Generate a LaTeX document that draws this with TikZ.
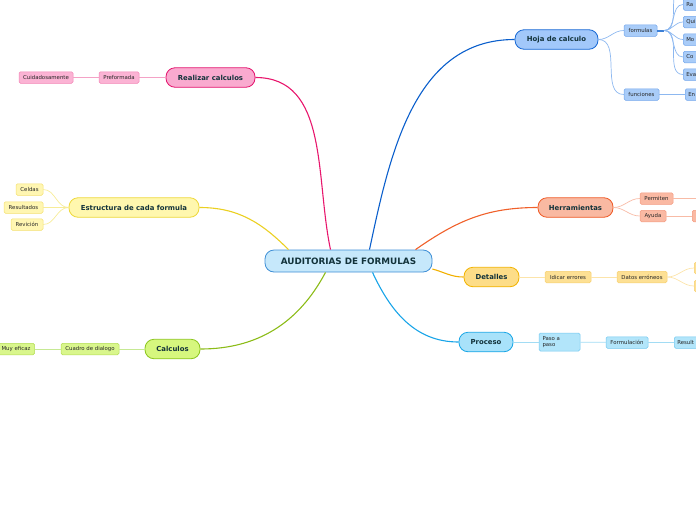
\documentclass[tikz,border=0pt]{standalone}
\usepackage{fontspec}
\setmainfont{DejaVu Sans}

\definecolor{inkdark}{HTML}{12323A}
\definecolor{rootfill}{HTML}{C6E8FB}\definecolor{rootline}{HTML}{3F8FD6}
\definecolor{bluefill}{HTML}{A2C8FA}\definecolor{blueline}{HTML}{1768D4}\definecolor{bluelink}{HTML}{0B5FCC}
\definecolor{bluesub}{HTML}{A9CCF8}\definecolor{bluesubline}{HTML}{72A6EC}\definecolor{bluesublink}{HTML}{8DB8F0}
\definecolor{pinkfill}{HTML}{F9AACF}\definecolor{pinkline}{HTML}{E3136D}\definecolor{pinklink}{HTML}{E8176D}
\definecolor{pinksub}{HTML}{FBB3D4}\definecolor{pinksubline}{HTML}{F283B4}\definecolor{pinksublink}{HTML}{F4A2C6}
\definecolor{yelfill}{HTML}{FFF7AE}\definecolor{yelline}{HTML}{EED83A}\definecolor{yellink}{HTML}{EBD022}
\definecolor{yelsub}{HTML}{FFF6B2}\definecolor{yelsubline}{HTML}{F4E070}\definecolor{yelsublink}{HTML}{F7EC98}
\definecolor{grnfill}{HTML}{D6F77E}\definecolor{grnline}{HTML}{8CC61E}\definecolor{grnlink}{HTML}{8CBC18}
\definecolor{grnsub}{HTML}{D9F68C}\definecolor{grnsubline}{HTML}{B2DC52}\definecolor{grnsublink}{HTML}{C6E994}
\definecolor{orafill}{HTML}{F9B9A2}\definecolor{oraline}{HTML}{EF5A26}\definecolor{oralink}{HTML}{F0602A}
\definecolor{orasub}{HTML}{FAB9A3}\definecolor{orasubline}{HTML}{F49A80}\definecolor{orasublink}{HTML}{F8BBA6}
\definecolor{goldfill}{HTML}{FDDD88}\definecolor{goldline}{HTML}{F2B300}\definecolor{goldlink}{HTML}{F2B000}
\definecolor{goldsub}{HTML}{FDE094}\definecolor{goldsubline}{HTML}{F7D070}\definecolor{goldsublink}{HTML}{FCE4AA}
\definecolor{cyafill}{HTML}{A8E2FA}\definecolor{cyaline}{HTML}{19A6E6}\definecolor{cyalink}{HTML}{18A4E8}
\definecolor{cyasub}{HTML}{B2E5FA}\definecolor{cyasubline}{HTML}{72C8F0}\definecolor{cyasublink}{HTML}{A2DCF4}

\begin{document}
\begin{tikzpicture}[x=1pt, y=-1pt,
  root/.style={draw=rootline, fill=rootfill, line width=.8pt, rounded corners=9pt,
               minimum width=167pt, minimum height=22pt, text=inkdark,
               font=\fontsize{8.8}{10}\selectfont\bfseries},
  topic/.style={line width=.8pt, rounded corners=9pt, minimum height=19.5pt, inner xsep=2pt,
                text=inkdark, font=\fontsize{6.9}{8}\selectfont\bfseries},
  leaf/.style={line width=.5pt, rounded corners=1.5pt, minimum height=11.5pt, inner xsep=1.2pt,
               inner ysep=1pt, text=black!85, font=\fontsize{5.4}{6.3}\selectfont},
  cutleaf/.style={leaf, anchor=west, minimum width=40pt, text width=34pt, align=left},
  link/.style={line width=1.1pt},
  sublink/.style={line width=.7pt},
]
\useasboundingbox (0,0) rectangle (696,520);
\clip (0,0) rectangle (696,520);

\node[root] (root) at (348.5,261) {AUDITORIAS DE FORMULAS};

% right side
\node[topic, draw=blueline, fill=bluefill, minimum width=83pt] (hoja) at (556.5,39.5) {Hoja de calculo};
\node[leaf, draw=bluesubline, fill=bluesub, minimum width=33pt] (formulas) at (640.5,30.5) {formulas};
\node[leaf, draw=bluesubline, fill=bluesub, minimum width=35pt] (funciones) at (641.5,94.5) {funciones};
\coordinate (fork) at (664,30.5);
\coordinate (fhidden) at (683,-13);
\node[cutleaf, draw=bluesubline, fill=bluesub] (fra) at (683,4.5) {Ra};
\node[cutleaf, draw=bluesubline, fill=bluesub] (fqui) at (683,22) {Qui};
\node[cutleaf, draw=bluesubline, fill=bluesub] (fmo) at (683,39.5) {Mo};
\node[cutleaf, draw=bluesubline, fill=bluesub] (fco) at (683,57) {Co};
\node[cutleaf, draw=bluesubline, fill=bluesub] (feva) at (683,74.5) {Eva};
\node[cutleaf, draw=bluesubline, fill=bluesub] (fen) at (685,94.5) {En};

\node[topic, draw=oraline, fill=orafill, minimum width=75pt] (herr) at (575.5,207.5) {Herramientas};
\node[leaf, draw=orasubline, fill=orasub, minimum width=33pt] (permiten) at (656.5,198.5) {Permiten};
\node[leaf, draw=orasubline, fill=orasub, minimum width=26pt] (ayuda) at (653,216) {Ayuda};
\coordinate (phidden) at (700,198.5);
\node[cutleaf, draw=orasubline, fill=orasub] (ayudanext) at (692,216) {};

\node[topic, draw=goldline, fill=goldfill, minimum width=55pt] (detalles) at (491.5,277) {Detalles};
\node[leaf, draw=goldsubline, fill=goldsub, minimum width=46pt] (idicar) at (568,277) {Idicar errores};
\node[leaf, draw=goldsubline, fill=goldsub, minimum width=50pt] (datos) at (642,277) {Datos erróneos};
\node[cutleaf, draw=goldsubline, fill=goldsub] (datosa) at (694,268) {};
\node[cutleaf, draw=goldsubline, fill=goldsub] (datosb) at (694,286) {};

\node[topic, draw=cyaline, fill=cyafill, minimum width=54pt] (proceso) at (486,342) {Proceso};
\node[leaf, draw=cyasubline, fill=cyasub, minimum width=41pt, minimum height=18pt,
      inner xsep=3.5pt, text width=34pt, align=left] (paso) at (559.5,342) {Paso a\\paso};
\node[leaf, draw=cyasubline, fill=cyasub, minimum width=42pt] (formulacion) at (627,342.5) {Formulación};
\node[cutleaf, draw=cyasubline, fill=cyasub] (result) at (674,342.5) {Result};

% left side
\node[topic, draw=pinkline, fill=pinkfill, minimum width=89pt] (realizar) at (210.5,77.5) {Realizar calculos};
\node[leaf, draw=pinksubline, fill=pinksub, minimum width=40pt] (preformada) at (119,77.5) {Preformada};
\node[leaf, draw=pinksubline, fill=pinksub, minimum width=54pt] (cuidado) at (46,77.5) {Cuidadosamente};

\node[topic, draw=yelline, fill=yelfill, minimum width=130pt] (estructura) at (134,207.5) {Estructura de cada formula};
\node[leaf, draw=yelsubline, fill=yelsub, minimum width=27pt] (celdas) at (29.5,189.5) {Celdas};
\node[leaf, draw=yelsubline, fill=yelsub, minimum width=39pt] (resultados) at (23.5,207.5) {Resultados};
\node[leaf, draw=yelsubline, fill=yelsub, minimum width=32pt] (revicion) at (27,224.5) {Revición};

\node[topic, draw=grnline, fill=grnfill, minimum width=55pt] (calculos) at (172.5,349) {Calculos};
\node[leaf, draw=grnsubline, fill=grnsub, minimum width=58pt] (cuadro) at (90,349) {Cuadro de dialogo};
\node[leaf, draw=grnsubline, fill=grnsub, minimum width=37pt] (eficaz) at (16,349) {Muy eficaz};

% main branches
\draw[link, bluelink] ([xshift=21pt]root.north) to[out=78, in=180] (hoja.west);
\draw[link, pinklink] ([xshift=-18pt]root.north) to[out=102, in=0] (realizar.east);
\draw[link, yellink] ([xshift=-60pt]root.north) to[out=135, in=0] (estructura.east);
\draw[link, grnlink] ([xshift=-23pt]root.south) to[out=-118, in=0] (calculos.east);
\draw[link, oralink] ([xshift=67pt]root.north) to[out=35, in=180] (herr.west);
\draw[link, goldlink] ([yshift=-8pt]root.east) to[out=-15, in=180] (detalles.west);
\draw[link, cyalink] ([xshift=24pt]root.south) to[out=-65, in=180] (proceso.west);

% sub branches
\draw[sublink, bluesublink] (hoja.east) to[out=0, in=180] (formulas.west);
\draw[sublink, bluesublink] (hoja.east) to[out=0, in=180] (funciones.west);
\draw[line width=2pt, bluelink!80] (formulas.east) -- (fork);
\draw[sublink, bluesublink] (fork) to[out=0, in=180] (fhidden);
\draw[sublink, bluesublink] (fork) to[out=0, in=180] (fra.west);
\draw[sublink, bluesublink] (fork) to[out=0, in=180] (fqui.west);
\draw[sublink, bluesublink] (fork) to[out=0, in=180] (fmo.west);
\draw[sublink, bluesublink] (fork) to[out=0, in=180] (fco.west);
\draw[sublink, bluesublink] (fork) to[out=0, in=180] (feva.west);
\draw[sublink, bluesublink] (funciones) -- (fen);

\draw[sublink, orasublink] (herr.east) to[out=0, in=180] (permiten.west);
\draw[sublink, orasublink] (herr.east) to[out=0, in=180] (ayuda.west);
\draw[sublink, orasublink] (permiten) -- (phidden);
\draw[sublink, orasublink] (ayuda) -- (ayudanext);

\draw[sublink, goldsublink] (detalles) -- (idicar);
\draw[sublink, goldsublink] (idicar) -- (datos);
\draw[sublink, goldsublink] (datos.east) to[out=0, in=180] (datosa.west);
\draw[sublink, goldsublink] (datos.east) to[out=0, in=180] (datosb.west);

\draw[sublink, cyasublink] (proceso) -- (paso);
\draw[sublink, cyasublink] (paso) -- (formulacion);
\draw[sublink, cyasublink] (formulacion) -- (result);

\draw[sublink, pinksublink] (realizar) -- (preformada);
\draw[sublink, pinksublink] (preformada) -- (cuidado);

\draw[sublink, yelsublink] (estructura.west) to[out=180, in=0] (celdas.east);
\draw[sublink, yelsublink] (estructura.west) to[out=180, in=0] (resultados.east);
\draw[sublink, yelsublink] (estructura.west) to[out=180, in=0] (revicion.east);

\draw[sublink, grnsublink] (calculos) -- (cuadro);
\draw[sublink, grnsublink] (cuadro) -- (eficaz);
\end{tikzpicture}
\end{document}
